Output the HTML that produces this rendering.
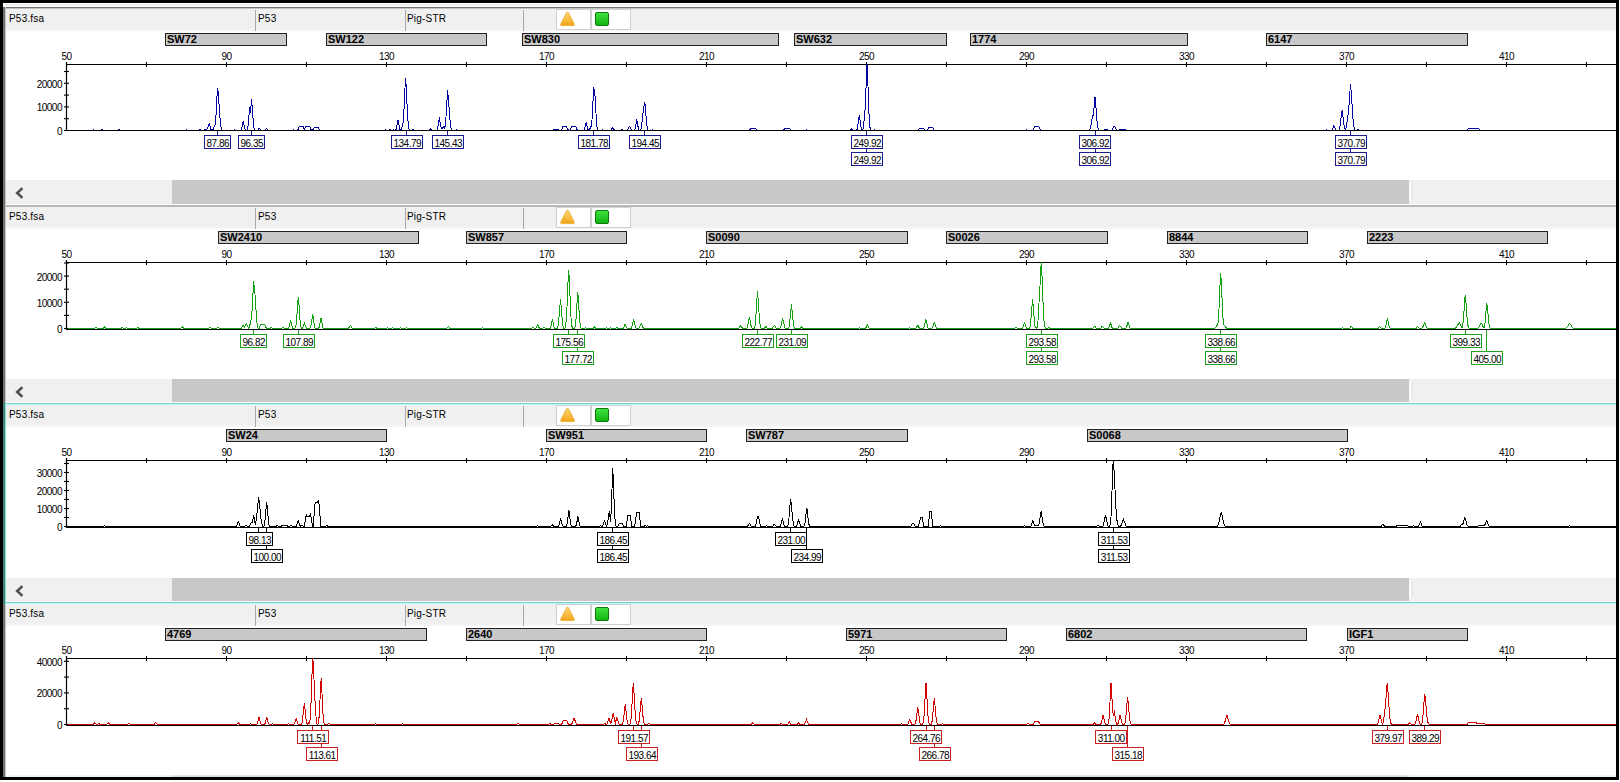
<!DOCTYPE html>
<html><head><meta charset="utf-8"><style>
*{margin:0;padding:0;box-sizing:border-box}
html,body{width:1620px;height:782px;overflow:hidden;background:#fff;position:relative;font-family:"Liberation Sans", Arial, sans-serif}
.hdr{position:absolute;left:5px;width:1611px;height:22px;background:linear-gradient(#f0f0f0 0,#f0f0f0 19px,#f7f7f7 22px)}
.vsep{position:absolute;width:1px;height:21px;background:#a8a8a8}
.ht{position:absolute;font-size:10px;line-height:11px;letter-spacing:0.2px;color:#000;white-space:nowrap}
.ibox{position:absolute;height:21px;background:#fff;border:1px solid #d0d0d0}
.gsq{position:absolute;width:14px;height:14px;border:1px solid #0a7a0a;border-radius:2px;background:linear-gradient(#3ee03e,#12b412)}
.xl{position:absolute;width:40px;text-align:center;font-size:10px;letter-spacing:-0.5px;line-height:10px;color:#000}
.yl{position:absolute;left:20px;width:42px;text-align:right;font-size:10px;letter-spacing:-0.5px;line-height:10px;color:#000}
.bar{position:absolute;height:13px;background:#c8c8c8;border:1px solid #222;font-weight:bold;font-size:11px;line-height:11px;padding-left:1px;color:#000;white-space:nowrap;overflow:hidden}
.sb{position:absolute;left:5px;width:1611px;height:25px;background:#f0f0f0}
.thumb{position:absolute;left:172px;width:1237px;height:24px;background:#c8c8c8}
.pl{position:absolute;height:14px;background:#fff;border:1px solid;font-size:10px;letter-spacing:-0.5px;line-height:10px;padding:2.5px 0 0 0.5px;text-align:center;color:#000;white-space:nowrap}
</style></head>
<body>
<div style="position:absolute;left:5px;top:4px;width:1611px;height:2px;background:#f0f0f0"></div><div style="position:absolute;left:3px;top:7px;width:1613px;height:1px;background:#727272"></div><div style="position:absolute;left:3px;top:8px;width:1613px;height:1px;background:#c4c4c4"></div><div class="hdr" style="top:9px"></div><div class="vsep" style="left:255px;top:10px"></div><div class="vsep" style="left:405px;top:10px"></div><div class="vsep" style="left:523px;top:10px"></div><div class="ht" style="left:9px;top:13px">P53.fsa</div><div class="ht" style="left:258px;top:13px">P53</div><div class="ht" style="left:407px;top:13px">Pig-STR</div><div class="ibox" style="left:556px;top:9px;width:35px"></div><div class="ibox" style="left:591px;top:9px;width:40px"></div><svg style="position:absolute;left:559px;top:11px" width="17" height="16" viewBox="0 0 17 16"><defs><linearGradient id="tg0" x1="0" y1="0" x2="0" y2="1"><stop offset="0" stop-color="#ffd878"/><stop offset="1" stop-color="#f2a418"/></linearGradient></defs><path d="M7.6 1.6 Q8.5 0.6 9.4 1.6 L15.3 13.2 Q15.6 14.6 14.2 14.6 L2.8 14.6 Q1.4 14.6 1.7 13.2 Z" fill="url(#tg0)" stroke="#e8a828" stroke-width="0.8"/></svg><div class="gsq" style="left:595px;top:12px"></div><div style="position:absolute;left:3px;top:205px;width:1613px;height:2px;background:#b8b8b8"></div><div class="hdr" style="top:207px"></div><div class="vsep" style="left:255px;top:208px"></div><div class="vsep" style="left:405px;top:208px"></div><div class="vsep" style="left:523px;top:208px"></div><div class="ht" style="left:9px;top:211px">P53.fsa</div><div class="ht" style="left:258px;top:211px">P53</div><div class="ht" style="left:407px;top:211px">Pig-STR</div><div class="ibox" style="left:556px;top:207px;width:35px"></div><div class="ibox" style="left:591px;top:207px;width:40px"></div><svg style="position:absolute;left:559px;top:209px" width="17" height="16" viewBox="0 0 17 16"><defs><linearGradient id="tg198" x1="0" y1="0" x2="0" y2="1"><stop offset="0" stop-color="#ffd878"/><stop offset="1" stop-color="#f2a418"/></linearGradient></defs><path d="M7.6 1.6 Q8.5 0.6 9.4 1.6 L15.3 13.2 Q15.6 14.6 14.2 14.6 L2.8 14.6 Q1.4 14.6 1.7 13.2 Z" fill="url(#tg198)" stroke="#e8a828" stroke-width="0.8"/></svg><div class="gsq" style="left:595px;top:210px"></div><div style="position:absolute;left:3px;top:403px;width:1613px;height:1px;background:#7ccac4"></div><div style="position:absolute;left:3px;top:404px;width:1613px;height:1px;background:#b8fcfc"></div><div class="hdr" style="top:405px"></div><div class="vsep" style="left:255px;top:406px"></div><div class="vsep" style="left:405px;top:406px"></div><div class="vsep" style="left:523px;top:406px"></div><div class="ht" style="left:9px;top:409px">P53.fsa</div><div class="ht" style="left:258px;top:409px">P53</div><div class="ht" style="left:407px;top:409px">Pig-STR</div><div class="ibox" style="left:556px;top:405px;width:35px"></div><div class="ibox" style="left:591px;top:405px;width:40px"></div><svg style="position:absolute;left:559px;top:407px" width="17" height="16" viewBox="0 0 17 16"><defs><linearGradient id="tg396" x1="0" y1="0" x2="0" y2="1"><stop offset="0" stop-color="#ffd878"/><stop offset="1" stop-color="#f2a418"/></linearGradient></defs><path d="M7.6 1.6 Q8.5 0.6 9.4 1.6 L15.3 13.2 Q15.6 14.6 14.2 14.6 L2.8 14.6 Q1.4 14.6 1.7 13.2 Z" fill="url(#tg396)" stroke="#e8a828" stroke-width="0.8"/></svg><div class="gsq" style="left:595px;top:408px"></div><div style="position:absolute;left:3px;top:602px;width:1613px;height:1px;background:#7ccac4"></div><div style="position:absolute;left:3px;top:603px;width:1613px;height:1px;background:#b8fcfc"></div><div class="hdr" style="top:604px"></div><div class="vsep" style="left:255px;top:605px"></div><div class="vsep" style="left:405px;top:605px"></div><div class="vsep" style="left:523px;top:605px"></div><div class="ht" style="left:9px;top:608px">P53.fsa</div><div class="ht" style="left:258px;top:608px">P53</div><div class="ht" style="left:407px;top:608px">Pig-STR</div><div class="ibox" style="left:556px;top:604px;width:35px"></div><div class="ibox" style="left:591px;top:604px;width:40px"></div><svg style="position:absolute;left:559px;top:606px" width="17" height="16" viewBox="0 0 17 16"><defs><linearGradient id="tg595" x1="0" y1="0" x2="0" y2="1"><stop offset="0" stop-color="#ffd878"/><stop offset="1" stop-color="#f2a418"/></linearGradient></defs><path d="M7.6 1.6 Q8.5 0.6 9.4 1.6 L15.3 13.2 Q15.6 14.6 14.2 14.6 L2.8 14.6 Q1.4 14.6 1.7 13.2 Z" fill="url(#tg595)" stroke="#e8a828" stroke-width="0.8"/></svg><div class="gsq" style="left:595px;top:607px"></div><div class="xl" style="left:46.5px;top:52px">50</div><div class="xl" style="left:206.5px;top:52px">90</div><div class="xl" style="left:366.5px;top:52px">130</div><div class="xl" style="left:526.5px;top:52px">170</div><div class="xl" style="left:686.5px;top:52px">210</div><div class="xl" style="left:846.5px;top:52px">250</div><div class="xl" style="left:1006.5px;top:52px">290</div><div class="xl" style="left:1166.5px;top:52px">330</div><div class="xl" style="left:1326.5px;top:52px">370</div><div class="xl" style="left:1486.5px;top:52px">410</div><svg style="position:absolute;left:0;top:0" width="1620" height="782"><line x1="66" y1="64.5" x2="1616" y2="64.5" stroke="#000" stroke-width="1.2"/><line x1="66.5" y1="62" x2="66.5" y2="67" stroke="#000" stroke-width="1.1"/><line x1="146.5" y1="62" x2="146.5" y2="67" stroke="#000" stroke-width="1.1"/><line x1="226.5" y1="62" x2="226.5" y2="67" stroke="#000" stroke-width="1.1"/><line x1="306.5" y1="62" x2="306.5" y2="67" stroke="#000" stroke-width="1.1"/><line x1="386.5" y1="62" x2="386.5" y2="67" stroke="#000" stroke-width="1.1"/><line x1="466.5" y1="62" x2="466.5" y2="67" stroke="#000" stroke-width="1.1"/><line x1="546.5" y1="62" x2="546.5" y2="67" stroke="#000" stroke-width="1.1"/><line x1="626.5" y1="62" x2="626.5" y2="67" stroke="#000" stroke-width="1.1"/><line x1="706.5" y1="62" x2="706.5" y2="67" stroke="#000" stroke-width="1.1"/><line x1="786.5" y1="62" x2="786.5" y2="67" stroke="#000" stroke-width="1.1"/><line x1="866.5" y1="62" x2="866.5" y2="67" stroke="#000" stroke-width="1.1"/><line x1="946.5" y1="62" x2="946.5" y2="67" stroke="#000" stroke-width="1.1"/><line x1="1026.5" y1="62" x2="1026.5" y2="67" stroke="#000" stroke-width="1.1"/><line x1="1106.5" y1="62" x2="1106.5" y2="67" stroke="#000" stroke-width="1.1"/><line x1="1186.5" y1="62" x2="1186.5" y2="67" stroke="#000" stroke-width="1.1"/><line x1="1266.5" y1="62" x2="1266.5" y2="67" stroke="#000" stroke-width="1.1"/><line x1="1346.5" y1="62" x2="1346.5" y2="67" stroke="#000" stroke-width="1.1"/><line x1="1426.5" y1="62" x2="1426.5" y2="67" stroke="#000" stroke-width="1.1"/><line x1="1506.5" y1="62" x2="1506.5" y2="67" stroke="#000" stroke-width="1.1"/><line x1="1586.5" y1="62" x2="1586.5" y2="67" stroke="#000" stroke-width="1.1"/><line x1="66.5" y1="62" x2="66.5" y2="131" stroke="#000" stroke-width="1.2"/><line x1="64" y1="130.5" x2="69" y2="130.5" stroke="#000" stroke-width="1.1"/><line x1="64" y1="118.7" x2="69" y2="118.7" stroke="#000" stroke-width="1.1"/><line x1="64" y1="106.9" x2="69" y2="106.9" stroke="#000" stroke-width="1.1"/><line x1="64" y1="95.1" x2="69" y2="95.1" stroke="#000" stroke-width="1.1"/><line x1="64" y1="83.3" x2="69" y2="83.3" stroke="#000" stroke-width="1.1"/><line x1="64" y1="71.5" x2="69" y2="71.5" stroke="#000" stroke-width="1.1"/><polyline points="67.50,130.50 91.50,130.50 92.50,130.21 93.50,129.50 94.50,130.21 95.50,130.50 100.50,130.50 101.50,129.36 102.50,129.07 103.50,130.50 117.50,130.50 118.50,129.86 119.50,129.86 120.50,130.50 184.50,130.50 185.50,130.21 186.50,129.50 187.50,130.21 188.50,130.50 198.50,130.50 199.50,129.79 200.50,129.93 201.50,130.50 203.50,130.50 204.50,129.86 205.50,129.86 206.50,130.50 207.50,127.59 207.80,127.20 208.50,125.39 209.20,123.00 209.50,123.51 210.50,128.50 211.50,130.50 212.50,130.50 213.50,128.57 214.30,125.80 214.50,126.05 215.50,123.83 216.10,113.37 216.50,103.79 217.50,88.10 218.20,92.37 218.50,96.09 219.50,110.76 220.50,124.45 221.50,129.17 222.50,130.50 232.50,130.50 233.50,130.21 234.50,129.50 235.50,130.21 236.50,130.50 240.50,130.50 241.50,129.53 242.50,124.16 243.20,121.20 243.50,121.83 244.50,128.02 245.50,130.50 246.50,130.50 247.50,129.54 248.50,122.57 249.50,108.23 249.80,106.90 250.50,113.30 251.50,99.00 252.50,110.66 253.50,125.54 254.50,130.01 255.50,130.50 257.50,130.50 258.50,129.00 259.20,128.10 259.50,128.30 260.50,130.03 261.50,130.50 264.50,130.50 265.50,129.75 266.50,128.12 266.60,128.10 267.50,129.40 268.50,130.50 291.50,130.50 292.50,130.50 293.50,129.93 294.50,130.04 295.50,130.50 297.50,130.50 298.50,128.40 299.50,126.30 300.50,126.30 301.50,126.30 302.50,126.30 303.50,126.30 304.50,130.50 305.50,126.30 306.50,126.30 307.50,126.30 308.50,126.30 309.50,126.30 310.50,128.40 311.50,130.50 312.50,130.50 313.50,128.40 314.50,127.50 315.50,127.50 316.50,127.50 317.50,127.50 318.50,127.50 319.50,130.50 383.50,130.50 384.50,130.29 385.50,129.57 386.50,130.14 387.50,130.50 388.50,130.50 389.50,129.86 390.50,129.86 391.50,130.50 392.50,130.21 393.50,129.50 394.50,130.21 395.50,130.50 396.50,128.69 397.50,121.86 398.00,120.00 398.50,121.86 399.50,128.69 400.50,130.50 401.50,129.46 402.50,124.69 403.10,122.80 403.50,122.25 404.50,97.50 405.50,78.10 406.20,85.38 406.50,91.88 407.50,115.04 408.50,127.14 409.50,130.10 410.50,130.50 411.50,130.50 412.50,129.79 413.50,129.93 414.50,130.50 428.50,130.50 429.50,130.07 430.50,129.00 431.50,130.07 432.50,130.50 436.50,130.50 437.50,128.97 438.50,122.30 439.30,118.10 439.50,118.42 440.50,125.61 441.50,128.03 442.00,127.00 442.50,128.03 443.50,126.90 443.90,126.00 444.50,127.77 445.50,125.40 446.50,108.09 447.50,91.48 447.60,91.30 448.50,99.01 449.50,114.00 450.50,126.38 451.50,129.86 452.50,130.50 454.50,130.50 455.50,130.14 456.50,129.57 457.50,130.29 458.50,130.50 552.50,130.50 553.50,129.00 554.50,129.00 555.50,129.00 556.50,129.00 557.50,129.00 558.50,129.15 559.50,130.50 561.50,130.50 562.50,126.80 563.50,126.80 564.50,126.80 565.50,126.80 566.50,126.80 567.50,128.65 568.50,130.50 570.50,130.50 571.50,126.30 572.50,126.30 573.50,126.30 574.50,126.30 575.50,126.30 576.50,128.40 577.50,130.50 583.50,130.50 584.50,129.66 585.50,125.04 586.20,122.50 586.50,123.04 587.50,128.36 588.50,130.50 589.50,130.09 590.50,127.04 591.10,125.60 591.50,126.30 592.50,113.23 593.50,89.36 593.80,87.30 594.50,93.30 595.00,96.00 595.50,102.12 596.50,124.55 597.50,129.84 598.50,130.50 600.50,130.50 601.50,130.10 602.50,129.87 603.50,130.44 604.50,130.50 610.50,130.50 611.50,129.49 612.50,127.50 612.70,127.40 613.50,128.62 614.50,130.50 620.50,130.50 621.50,129.99 622.50,129.99 623.50,130.50 626.50,130.50 627.50,129.79 628.50,127.63 629.40,126.20 629.50,126.22 630.50,128.15 631.50,130.03 632.50,130.50 634.50,130.50 635.50,127.70 636.50,120.71 636.80,120.00 637.50,123.34 638.50,129.40 639.50,130.50 640.50,130.50 641.50,127.58 642.50,117.40 643.50,108.90 644.50,103.45 644.80,102.10 645.50,107.86 646.50,123.03 647.50,129.52 648.50,130.50 650.50,130.50 651.50,130.10 652.50,129.87 653.50,130.44 654.50,130.50 749.50,130.50 750.50,128.80 751.50,128.80 752.50,128.80 753.50,128.80 754.50,128.80 755.50,128.80 756.50,129.65 757.50,130.50 782.50,130.50 783.50,130.16 784.50,128.80 785.50,128.80 786.50,128.80 787.50,128.80 788.50,128.80 789.50,128.80 790.50,129.65 791.50,130.50 804.50,130.50 805.50,130.10 806.50,129.87 807.50,130.44 808.50,130.50 849.50,130.50 850.50,129.96 851.50,129.11 852.50,130.18 853.50,130.50 856.50,130.50 857.50,128.61 858.50,120.38 859.30,115.20 859.50,115.59 860.50,124.46 861.50,129.83 862.50,130.50 863.50,127.13 864.50,115.40 865.50,105.60 866.50,71.56 867.00,64.50 867.50,69.40 868.50,102.97 869.50,124.91 870.50,129.99 871.50,130.50 872.50,130.50 873.50,130.29 874.50,129.94 875.50,130.37 876.50,130.50 917.50,130.50 918.50,129.65 919.50,128.80 920.50,128.80 921.50,128.80 922.50,128.80 923.50,128.80 924.50,129.65 925.50,130.50 927.50,130.50 928.50,127.50 929.50,127.50 930.50,127.50 931.50,127.50 932.50,127.50 933.50,129.00 934.50,130.50 1025.50,130.50 1026.50,129.93 1027.50,130.04 1028.50,130.50 1033.50,130.50 1034.50,126.50 1035.50,126.50 1036.50,126.50 1037.50,126.50 1038.50,126.50 1039.50,127.30 1040.50,130.50 1088.50,130.50 1089.50,129.93 1090.50,128.50 1091.50,122.48 1092.50,115.20 1093.50,115.46 1094.50,100.83 1095.00,97.20 1095.50,99.97 1096.50,115.25 1097.50,126.70 1098.50,130.03 1099.50,130.50 1103.50,130.50 1104.50,129.00 1105.50,129.00 1106.50,129.00 1107.50,129.30 1108.50,130.50 1111.50,130.50 1112.50,129.17 1113.50,127.22 1114.30,126.40 1114.50,126.46 1115.50,128.01 1116.50,129.74 1117.50,130.50 1118.50,130.50 1119.50,129.75 1120.50,129.00 1121.50,129.00 1122.50,129.00 1123.50,129.00 1124.50,129.00 1125.50,129.00 1126.50,130.35 1127.50,130.50 1324.50,130.50 1325.50,130.33 1326.50,129.90 1327.50,130.33 1328.50,130.50 1331.50,130.50 1332.50,129.46 1333.50,126.26 1333.90,125.70 1334.50,126.88 1335.50,129.85 1336.50,130.50 1338.50,130.50 1339.50,129.16 1340.50,123.36 1341.50,113.35 1342.10,110.70 1342.50,111.92 1343.50,121.43 1344.50,128.51 1345.50,129.88 1346.50,125.92 1347.50,118.06 1348.00,114.97 1348.50,107.91 1349.00,104.90 1349.50,98.80 1350.40,84.40 1350.50,84.50 1351.50,95.02 1352.50,112.75 1353.50,124.74 1354.50,129.29 1355.50,130.50 1356.50,130.50 1357.50,129.99 1358.50,129.99 1359.50,130.50 1466.50,130.50 1467.50,129.50 1468.50,128.50 1469.50,128.50 1470.50,128.50 1471.50,128.50 1472.50,128.50 1473.50,128.50 1474.50,128.50 1475.50,128.50 1476.50,128.50 1477.50,128.50 1478.50,128.50 1479.50,129.50 1480.50,130.50 1615.50,130.50" fill="none" stroke="#0000a0" stroke-width="1" stroke-linejoin="miter" shape-rendering="crispEdges"/><line x1="66" y1="130.5" x2="1616" y2="130.5" stroke="#000" stroke-width="1.1"/><line x1="217.5" y1="131" x2="217.5" y2="135" stroke="#1c1c90" stroke-width="1"/><line x1="251.5" y1="131" x2="251.5" y2="135" stroke="#1c1c90" stroke-width="1"/><line x1="406.5" y1="131" x2="406.5" y2="135" stroke="#1c1c90" stroke-width="1"/><line x1="447.5" y1="131" x2="447.5" y2="135" stroke="#1c1c90" stroke-width="1"/><line x1="593.5" y1="131" x2="593.5" y2="135" stroke="#1c1c90" stroke-width="1"/><line x1="644.5" y1="131" x2="644.5" y2="135" stroke="#1c1c90" stroke-width="1"/><line x1="866.5" y1="131" x2="866.5" y2="135" stroke="#1c1c90" stroke-width="1"/><line x1="1095.5" y1="131" x2="1095.5" y2="135" stroke="#1c1c90" stroke-width="1"/><line x1="1350.5" y1="131" x2="1350.5" y2="135" stroke="#1c1c90" stroke-width="1"/><line x1="866.5" y1="131" x2="866.5" y2="152" stroke="#1c1c90" stroke-width="1"/><line x1="1095.5" y1="131" x2="1095.5" y2="152" stroke="#1c1c90" stroke-width="1"/><line x1="1350.5" y1="131" x2="1350.5" y2="152" stroke="#1c1c90" stroke-width="1"/></svg><div class="yl" style="top:127px">0</div><div class="yl" style="top:103px">10000</div><div class="yl" style="top:80px">20000</div><div class="bar" style="left:165px;top:33px;width:122px">SW72</div><div class="bar" style="left:326px;top:33px;width:161px">SW122</div><div class="bar" style="left:522px;top:33px;width:257px">SW830</div><div class="bar" style="left:794px;top:33px;width:153px">SW632</div><div class="bar" style="left:970px;top:33px;width:218px">1774</div><div class="bar" style="left:1266px;top:33px;width:202px">6147</div><div class="pl" style="left:204px;width:27px;top:135px;border-color:#1c1c90">87.86</div><div class="pl" style="left:238px;width:27px;top:135px;border-color:#1c1c90">96.35</div><div class="pl" style="left:391px;width:32px;top:135px;border-color:#1c1c90">134.79</div><div class="pl" style="left:432px;width:32px;top:135px;border-color:#1c1c90">145.43</div><div class="pl" style="left:578px;width:32px;top:135px;border-color:#1c1c90">181.78</div><div class="pl" style="left:629px;width:32px;top:135px;border-color:#1c1c90">194.45</div><div class="pl" style="left:851px;width:32px;top:135px;border-color:#1c1c90">249.92</div><div class="pl" style="left:1079px;width:32px;top:135px;border-color:#1c1c90">306.92</div><div class="pl" style="left:1335px;width:32px;top:135px;border-color:#1c1c90">370.79</div><div class="pl" style="left:851px;width:32px;top:152px;border-color:#1c1c90">249.92</div><div class="pl" style="left:1079px;width:32px;top:152px;border-color:#1c1c90">306.92</div><div class="pl" style="left:1335px;width:32px;top:152px;border-color:#1c1c90">370.79</div><div class="xl" style="left:46.5px;top:250px">50</div><div class="xl" style="left:206.5px;top:250px">90</div><div class="xl" style="left:366.5px;top:250px">130</div><div class="xl" style="left:526.5px;top:250px">170</div><div class="xl" style="left:686.5px;top:250px">210</div><div class="xl" style="left:846.5px;top:250px">250</div><div class="xl" style="left:1006.5px;top:250px">290</div><div class="xl" style="left:1166.5px;top:250px">330</div><div class="xl" style="left:1326.5px;top:250px">370</div><div class="xl" style="left:1486.5px;top:250px">410</div><svg style="position:absolute;left:0;top:0" width="1620" height="782"><line x1="66" y1="262.5" x2="1616" y2="262.5" stroke="#000" stroke-width="1.2"/><line x1="66.5" y1="260" x2="66.5" y2="265" stroke="#000" stroke-width="1.1"/><line x1="146.5" y1="260" x2="146.5" y2="265" stroke="#000" stroke-width="1.1"/><line x1="226.5" y1="260" x2="226.5" y2="265" stroke="#000" stroke-width="1.1"/><line x1="306.5" y1="260" x2="306.5" y2="265" stroke="#000" stroke-width="1.1"/><line x1="386.5" y1="260" x2="386.5" y2="265" stroke="#000" stroke-width="1.1"/><line x1="466.5" y1="260" x2="466.5" y2="265" stroke="#000" stroke-width="1.1"/><line x1="546.5" y1="260" x2="546.5" y2="265" stroke="#000" stroke-width="1.1"/><line x1="626.5" y1="260" x2="626.5" y2="265" stroke="#000" stroke-width="1.1"/><line x1="706.5" y1="260" x2="706.5" y2="265" stroke="#000" stroke-width="1.1"/><line x1="786.5" y1="260" x2="786.5" y2="265" stroke="#000" stroke-width="1.1"/><line x1="866.5" y1="260" x2="866.5" y2="265" stroke="#000" stroke-width="1.1"/><line x1="946.5" y1="260" x2="946.5" y2="265" stroke="#000" stroke-width="1.1"/><line x1="1026.5" y1="260" x2="1026.5" y2="265" stroke="#000" stroke-width="1.1"/><line x1="1106.5" y1="260" x2="1106.5" y2="265" stroke="#000" stroke-width="1.1"/><line x1="1186.5" y1="260" x2="1186.5" y2="265" stroke="#000" stroke-width="1.1"/><line x1="1266.5" y1="260" x2="1266.5" y2="265" stroke="#000" stroke-width="1.1"/><line x1="1346.5" y1="260" x2="1346.5" y2="265" stroke="#000" stroke-width="1.1"/><line x1="1426.5" y1="260" x2="1426.5" y2="265" stroke="#000" stroke-width="1.1"/><line x1="1506.5" y1="260" x2="1506.5" y2="265" stroke="#000" stroke-width="1.1"/><line x1="1586.5" y1="260" x2="1586.5" y2="265" stroke="#000" stroke-width="1.1"/><line x1="66.5" y1="260" x2="66.5" y2="330" stroke="#000" stroke-width="1.2"/><line x1="64" y1="328.5" x2="69" y2="328.5" stroke="#000" stroke-width="1.1"/><line x1="64" y1="315.4" x2="69" y2="315.4" stroke="#000" stroke-width="1.1"/><line x1="64" y1="302.3" x2="69" y2="302.3" stroke="#000" stroke-width="1.1"/><line x1="64" y1="289.2" x2="69" y2="289.2" stroke="#000" stroke-width="1.1"/><line x1="64" y1="276.1" x2="69" y2="276.1" stroke="#000" stroke-width="1.1"/><line x1="64" y1="263.0" x2="69" y2="263.0" stroke="#000" stroke-width="1.1"/><polyline points="67.50,328.50 94.50,328.50 95.50,327.81 96.50,327.64 97.50,328.50 102.50,328.50 103.50,327.96 104.50,327.11 105.50,328.18 106.50,328.50 120.50,328.50 121.50,328.00 122.50,327.71 123.50,328.43 124.50,328.50 125.50,328.36 126.50,327.64 127.50,328.07 128.50,328.50 135.50,328.50 136.50,328.24 137.50,327.39 138.50,328.07 139.50,328.50 180.50,328.50 181.50,327.25 182.50,326.54 183.50,328.32 184.50,328.50 208.50,328.50 209.50,327.86 210.50,327.86 211.50,328.50 216.50,328.50 217.50,327.21 218.50,327.21 219.50,328.50 240.50,328.50 241.50,327.98 242.50,326.03 243.00,325.50 243.50,326.03 244.50,327.32 245.50,324.59 246.20,323.50 246.50,323.72 247.50,326.35 248.50,328.14 249.50,327.09 250.50,322.19 251.50,318.10 252.50,304.38 253.50,282.25 253.60,282.00 254.50,288.50 255.50,300.23 256.50,318.53 257.50,326.74 258.50,328.50 259.50,328.50 260.50,324.00 261.50,324.00 262.50,324.00 263.50,324.00 264.50,324.00 265.50,326.25 266.50,328.50 269.50,328.50 270.50,328.00 271.50,327.71 272.50,328.43 273.50,328.50 280.50,328.50 281.50,328.39 282.50,327.32 283.50,327.75 284.50,328.50 288.50,328.50 289.50,325.39 290.50,320.56 290.60,320.50 291.50,324.25 292.50,328.02 293.50,328.50 294.50,328.50 295.50,327.88 296.50,322.33 297.50,305.84 298.30,297.30 298.50,297.97 298.80,301.26 299.50,313.56 300.50,325.33 301.50,328.50 302.50,328.50 303.50,326.07 304.50,323.20 305.50,326.07 306.50,328.50 309.50,328.50 310.50,327.88 311.50,322.90 312.50,314.66 312.70,314.30 313.50,319.11 314.50,326.75 315.50,328.50 318.50,328.50 319.50,326.71 320.50,319.95 321.00,318.10 321.50,319.95 322.50,326.71 323.50,328.50 348.50,328.50 349.50,326.60 350.40,325.30 350.50,325.32 351.50,327.03 352.50,328.50 373.50,328.50 374.50,328.45 375.50,327.79 376.50,327.93 377.50,328.50 385.50,328.50 386.50,328.07 387.50,327.64 388.50,328.36 389.50,328.50 390.50,328.50 391.50,328.36 392.50,327.64 393.50,328.07 394.50,328.50 398.50,328.50 399.50,328.29 400.50,327.57 401.50,328.14 402.50,328.50 404.50,328.50 405.50,328.21 406.50,327.50 407.50,328.21 408.50,328.50 446.50,328.50 447.50,327.93 448.50,326.50 449.50,327.93 450.50,328.50 480.50,328.50 481.50,328.35 482.50,327.85 483.50,328.25 484.50,328.50 531.50,328.50 532.50,327.86 533.50,327.21 534.50,328.29 535.50,328.50 536.50,327.02 537.50,324.73 537.60,324.70 538.50,326.48 539.50,328.50 541.50,328.50 542.50,328.29 543.50,327.21 544.50,327.86 545.50,328.50 549.50,328.50 550.50,327.95 551.50,323.61 552.40,319.30 552.50,319.37 553.50,324.93 554.50,328.50 556.50,328.50 557.50,328.04 558.50,323.90 559.50,310.11 560.50,299.30 561.50,310.11 562.50,323.90 563.50,328.04 564.50,328.50 565.50,326.92 566.50,316.84 567.50,296.82 568.00,282.18 568.50,271.46 568.70,270.40 569.50,281.98 570.50,309.64 571.50,324.68 572.50,328.11 573.50,328.50 574.50,328.50 575.50,325.39 576.50,312.06 577.50,294.06 577.80,292.60 578.50,299.88 579.50,319.06 580.50,327.27 581.50,328.50 583.50,328.50 584.50,328.36 585.50,327.64 586.50,328.07 587.50,328.50 592.50,328.50 593.50,328.18 594.50,327.11 595.50,327.96 596.50,328.50 604.50,328.50 605.50,328.25 606.50,327.85 607.50,328.35 608.50,328.50 609.50,328.25 610.50,327.85 611.50,328.35 612.50,328.50 614.50,328.50 615.50,328.43 616.50,327.71 617.50,328.00 618.50,328.50 622.50,328.50 623.50,328.05 624.50,325.57 625.20,324.20 625.50,324.49 626.50,327.35 627.50,328.50 630.50,328.50 631.50,327.95 632.50,324.20 633.50,319.16 633.60,319.10 634.50,322.93 635.50,327.59 636.50,328.50 638.50,328.50 639.50,327.85 640.50,324.99 641.30,323.20 641.50,323.34 642.50,326.41 643.50,328.50 738.50,328.50 739.50,327.43 740.50,325.87 740.70,325.80 741.50,326.71 742.50,328.50 746.50,328.50 747.50,327.18 748.50,321.62 749.40,317.40 749.50,317.47 750.50,323.07 751.50,327.68 752.50,328.50 753.50,328.50 754.50,328.09 755.50,323.45 756.50,305.88 757.50,291.20 758.50,303.46 759.50,320.93 760.50,327.47 761.50,328.50 764.50,328.50 765.50,326.61 765.90,326.30 766.50,326.95 767.50,328.50 771.50,328.50 772.50,328.10 773.50,326.38 774.30,325.30 774.50,325.38 775.50,327.24 776.50,328.50 779.50,328.50 780.50,327.92 781.50,324.19 782.50,318.64 782.70,318.40 783.50,321.58 784.50,327.01 785.50,328.50 788.50,328.50 789.50,325.20 790.50,313.42 791.40,305.10 791.50,305.21 792.50,315.13 793.50,325.45 794.50,328.50 799.50,328.50 800.50,328.07 801.50,327.00 802.50,328.07 803.50,328.50 857.50,328.50 858.50,328.07 859.50,327.64 860.50,328.36 861.50,328.50 865.50,328.50 866.50,326.43 867.40,324.60 867.50,324.63 868.50,326.98 869.50,328.50 907.50,328.50 908.50,328.29 909.50,327.57 910.50,328.14 911.50,328.50 915.50,328.50 916.50,327.65 917.50,325.52 917.80,325.30 918.50,326.32 919.50,328.50 923.50,328.50 924.50,325.93 925.50,320.29 925.90,319.40 926.50,321.29 927.50,326.76 928.50,328.50 931.50,328.50 932.50,327.91 933.50,324.88 934.40,322.40 934.50,322.44 935.50,325.71 936.50,328.15 937.50,328.50 1014.50,328.50 1015.50,327.86 1016.50,327.21 1017.50,328.29 1018.50,328.50 1021.50,328.50 1022.50,328.14 1023.50,325.26 1024.40,322.40 1024.50,322.45 1025.50,326.13 1026.50,328.50 1029.50,328.50 1030.50,324.82 1031.50,312.32 1032.50,300.33 1032.60,300.20 1033.50,309.04 1034.50,323.17 1035.50,327.92 1036.50,328.50 1037.50,326.63 1038.50,314.70 1039.50,290.99 1040.00,286.00 1040.50,274.68 1041.20,262.50 1041.50,262.83 1042.50,288.20 1043.50,315.07 1044.50,326.07 1045.50,328.50 1047.50,328.50 1048.50,327.79 1049.50,327.93 1050.50,328.50 1092.50,328.50 1093.50,327.91 1094.50,326.45 1094.80,326.30 1095.50,327.00 1096.50,328.50 1100.50,328.50 1101.50,327.00 1102.20,326.30 1102.50,326.45 1103.50,327.91 1104.50,328.50 1108.50,328.50 1109.50,325.62 1110.40,322.20 1110.50,322.26 1111.50,326.54 1112.50,328.50 1117.50,328.50 1118.50,327.24 1119.50,325.38 1119.70,325.30 1120.50,326.38 1121.50,328.10 1122.50,328.50 1125.50,328.50 1126.50,327.62 1127.50,323.59 1128.10,322.00 1128.50,322.76 1129.50,327.09 1130.50,328.50 1214.50,328.50 1215.50,327.90 1216.50,325.62 1217.00,325.00 1217.50,325.62 1218.50,320.48 1219.50,297.41 1220.50,274.17 1220.70,273.30 1221.50,284.30 1222.50,310.58 1223.50,324.87 1224.00,325.00 1224.50,325.29 1225.50,326.90 1226.50,328.10 1227.50,328.50 1340.50,328.50 1341.50,328.21 1342.50,327.50 1343.50,328.21 1344.50,328.50 1349.50,328.50 1350.50,326.84 1351.10,326.30 1351.50,326.56 1352.50,328.02 1353.50,328.50 1377.50,328.50 1378.50,328.09 1379.50,326.33 1379.60,326.30 1380.50,327.79 1381.50,328.50 1384.50,328.50 1385.50,327.15 1386.50,322.31 1387.40,318.90 1387.50,318.95 1388.50,323.52 1389.50,327.62 1390.50,328.50 1415.50,328.50 1416.50,328.09 1417.50,326.33 1417.60,326.30 1418.50,327.79 1419.50,328.50 1421.50,328.50 1422.50,327.93 1423.50,325.28 1424.50,322.33 1424.60,322.30 1425.50,324.50 1426.50,327.63 1427.50,328.50 1454.50,328.50 1455.50,328.02 1456.50,327.08 1457.50,325.43 1458.50,323.62 1459.50,322.80 1460.50,324.47 1461.50,327.08 1462.50,327.35 1463.50,319.75 1464.50,301.95 1465.20,295.20 1465.50,296.22 1466.50,309.98 1467.50,323.19 1468.50,327.74 1469.50,328.50 1477.50,328.50 1478.50,327.53 1479.50,325.87 1480.50,323.89 1481.30,323.20 1481.50,323.27 1482.50,325.29 1483.50,327.51 1484.50,327.07 1485.50,318.43 1486.50,304.50 1486.80,303.30 1487.50,307.77 1488.50,320.54 1489.50,327.12 1490.50,328.50 1565.50,328.50 1566.50,327.84 1567.50,326.60 1568.50,324.80 1569.50,323.64 1569.70,323.60 1570.50,324.18 1571.50,325.90 1572.50,327.44 1573.50,328.50 1615.50,328.50" fill="none" stroke="#10a010" stroke-width="1" stroke-linejoin="miter" shape-rendering="crispEdges"/><line x1="66" y1="329.5" x2="1616" y2="329.5" stroke="#000" stroke-width="1.1"/><line x1="253.5" y1="330" x2="253.5" y2="334" stroke="#20a020" stroke-width="1"/><line x1="298.5" y1="330" x2="298.5" y2="334" stroke="#20a020" stroke-width="1"/><line x1="568.5" y1="330" x2="568.5" y2="334" stroke="#20a020" stroke-width="1"/><line x1="757.5" y1="330" x2="757.5" y2="334" stroke="#20a020" stroke-width="1"/><line x1="791.5" y1="330" x2="791.5" y2="334" stroke="#20a020" stroke-width="1"/><line x1="1041.5" y1="330" x2="1041.5" y2="334" stroke="#20a020" stroke-width="1"/><line x1="1220.5" y1="330" x2="1220.5" y2="334" stroke="#20a020" stroke-width="1"/><line x1="1465.5" y1="330" x2="1465.5" y2="334" stroke="#20a020" stroke-width="1"/><line x1="577.5" y1="330" x2="577.5" y2="351" stroke="#20a020" stroke-width="1"/><line x1="1041.5" y1="330" x2="1041.5" y2="351" stroke="#20a020" stroke-width="1"/><line x1="1220.5" y1="330" x2="1220.5" y2="351" stroke="#20a020" stroke-width="1"/><line x1="1486.5" y1="330" x2="1486.5" y2="351" stroke="#20a020" stroke-width="1"/></svg><div class="yl" style="top:325px">0</div><div class="yl" style="top:299px">10000</div><div class="yl" style="top:273px">20000</div><div class="bar" style="left:218px;top:231px;width:201px">SW2410</div><div class="bar" style="left:466px;top:231px;width:161px">SW857</div><div class="bar" style="left:706px;top:231px;width:202px">S0090</div><div class="bar" style="left:946px;top:231px;width:162px">S0026</div><div class="bar" style="left:1167px;top:231px;width:141px">8844</div><div class="bar" style="left:1367px;top:231px;width:181px">2223</div><div class="pl" style="left:240px;width:27px;top:334px;border-color:#20a020">96.82</div><div class="pl" style="left:283px;width:32px;top:334px;border-color:#20a020">107.89</div><div class="pl" style="left:553px;width:32px;top:334px;border-color:#20a020">175.56</div><div class="pl" style="left:742px;width:32px;top:334px;border-color:#20a020">222.77</div><div class="pl" style="left:776px;width:32px;top:334px;border-color:#20a020">231.09</div><div class="pl" style="left:1026px;width:32px;top:334px;border-color:#20a020">293.58</div><div class="pl" style="left:1205px;width:32px;top:334px;border-color:#20a020">338.66</div><div class="pl" style="left:1450px;width:32px;top:334px;border-color:#20a020">399.33</div><div class="pl" style="left:562px;width:32px;top:351px;border-color:#20a020">177.72</div><div class="pl" style="left:1026px;width:32px;top:351px;border-color:#20a020">293.58</div><div class="pl" style="left:1205px;width:32px;top:351px;border-color:#20a020">338.66</div><div class="pl" style="left:1471px;width:32px;top:351px;border-color:#20a020">405.00</div><div class="xl" style="left:46.5px;top:448px">50</div><div class="xl" style="left:206.5px;top:448px">90</div><div class="xl" style="left:366.5px;top:448px">130</div><div class="xl" style="left:526.5px;top:448px">170</div><div class="xl" style="left:686.5px;top:448px">210</div><div class="xl" style="left:846.5px;top:448px">250</div><div class="xl" style="left:1006.5px;top:448px">290</div><div class="xl" style="left:1166.5px;top:448px">330</div><div class="xl" style="left:1326.5px;top:448px">370</div><div class="xl" style="left:1486.5px;top:448px">410</div><svg style="position:absolute;left:0;top:0" width="1620" height="782"><line x1="66" y1="460.5" x2="1616" y2="460.5" stroke="#000" stroke-width="1.2"/><line x1="66.5" y1="458" x2="66.5" y2="463" stroke="#000" stroke-width="1.1"/><line x1="146.5" y1="458" x2="146.5" y2="463" stroke="#000" stroke-width="1.1"/><line x1="226.5" y1="458" x2="226.5" y2="463" stroke="#000" stroke-width="1.1"/><line x1="306.5" y1="458" x2="306.5" y2="463" stroke="#000" stroke-width="1.1"/><line x1="386.5" y1="458" x2="386.5" y2="463" stroke="#000" stroke-width="1.1"/><line x1="466.5" y1="458" x2="466.5" y2="463" stroke="#000" stroke-width="1.1"/><line x1="546.5" y1="458" x2="546.5" y2="463" stroke="#000" stroke-width="1.1"/><line x1="626.5" y1="458" x2="626.5" y2="463" stroke="#000" stroke-width="1.1"/><line x1="706.5" y1="458" x2="706.5" y2="463" stroke="#000" stroke-width="1.1"/><line x1="786.5" y1="458" x2="786.5" y2="463" stroke="#000" stroke-width="1.1"/><line x1="866.5" y1="458" x2="866.5" y2="463" stroke="#000" stroke-width="1.1"/><line x1="946.5" y1="458" x2="946.5" y2="463" stroke="#000" stroke-width="1.1"/><line x1="1026.5" y1="458" x2="1026.5" y2="463" stroke="#000" stroke-width="1.1"/><line x1="1106.5" y1="458" x2="1106.5" y2="463" stroke="#000" stroke-width="1.1"/><line x1="1186.5" y1="458" x2="1186.5" y2="463" stroke="#000" stroke-width="1.1"/><line x1="1266.5" y1="458" x2="1266.5" y2="463" stroke="#000" stroke-width="1.1"/><line x1="1346.5" y1="458" x2="1346.5" y2="463" stroke="#000" stroke-width="1.1"/><line x1="1426.5" y1="458" x2="1426.5" y2="463" stroke="#000" stroke-width="1.1"/><line x1="1506.5" y1="458" x2="1506.5" y2="463" stroke="#000" stroke-width="1.1"/><line x1="1586.5" y1="458" x2="1586.5" y2="463" stroke="#000" stroke-width="1.1"/><line x1="66.5" y1="458" x2="66.5" y2="528" stroke="#000" stroke-width="1.2"/><line x1="64" y1="526.5" x2="69" y2="526.5" stroke="#000" stroke-width="1.1"/><line x1="64" y1="517.5" x2="69" y2="517.5" stroke="#000" stroke-width="1.1"/><line x1="64" y1="508.5" x2="69" y2="508.5" stroke="#000" stroke-width="1.1"/><line x1="64" y1="499.5" x2="69" y2="499.5" stroke="#000" stroke-width="1.1"/><line x1="64" y1="490.5" x2="69" y2="490.5" stroke="#000" stroke-width="1.1"/><line x1="64" y1="481.5" x2="69" y2="481.5" stroke="#000" stroke-width="1.1"/><line x1="64" y1="472.5" x2="69" y2="472.5" stroke="#000" stroke-width="1.1"/><line x1="64" y1="463.5" x2="69" y2="463.5" stroke="#000" stroke-width="1.1"/><polyline points="67.50,526.50 102.50,526.50 103.50,526.14 104.50,525.57 105.50,526.29 106.50,526.50 236.50,526.50 237.50,523.70 238.30,521.30 238.50,521.50 239.50,525.20 240.50,526.50 244.50,526.50 245.50,525.93 246.50,525.79 247.50,526.50 249.50,526.50 250.50,524.29 251.30,522.40 251.50,522.56 252.50,522.90 253.50,515.74 253.70,515.40 254.50,519.77 255.50,525.18 256.50,517.32 257.50,509.00 258.50,497.95 258.70,497.20 259.50,503.80 260.50,514.08 261.50,522.74 262.50,525.99 263.50,526.50 264.50,525.44 265.50,515.47 266.50,502.40 267.30,506.50 267.50,507.58 268.50,523.79 269.50,526.50 275.50,526.50 276.50,526.00 277.50,525.71 278.50,526.43 279.50,526.50 280.50,526.50 281.50,526.00 282.50,525.50 283.50,525.50 284.50,525.50 285.50,525.50 286.50,525.50 287.50,526.00 288.50,526.50 289.50,526.50 290.50,525.07 291.50,525.36 292.50,526.50 295.50,526.50 296.50,526.01 297.50,522.80 298.30,520.40 298.50,520.59 299.50,524.52 300.50,526.50 301.50,525.86 302.50,525.86 303.50,526.50 304.50,526.50 305.50,517.77 306.50,515.41 306.60,515.20 307.50,516.80 308.50,516.80 309.50,516.80 310.50,514.50 311.50,519.71 312.50,526.50 313.50,526.50 314.50,504.99 315.50,502.60 316.50,502.60 317.50,502.60 318.30,500.20 318.50,502.39 319.50,504.99 320.50,526.50 324.50,526.50 325.50,526.50 326.50,525.79 327.50,525.93 328.50,526.50 535.50,526.50 536.50,526.36 537.50,525.64 538.50,526.07 539.50,526.50 550.50,526.50 551.50,525.64 552.50,524.79 553.50,526.21 554.50,526.50 558.50,526.50 559.50,523.90 560.50,518.75 560.70,518.50 561.50,521.65 562.50,525.86 563.50,526.50 565.50,526.50 566.50,526.11 567.50,521.96 568.50,511.98 568.90,510.40 569.50,513.74 570.50,523.42 571.50,526.50 575.50,526.50 576.50,524.79 577.50,518.36 578.00,516.60 578.50,518.36 579.50,524.79 580.50,526.50 598.50,526.50 599.50,526.36 600.50,525.64 601.50,526.07 602.50,526.14 603.50,523.31 604.40,520.50 604.50,520.55 605.50,524.17 606.50,526.50 607.50,524.23 608.50,515.79 609.20,511.80 609.50,512.63 610.50,521.56 611.50,507.64 612.50,470.19 612.70,468.40 613.50,483.28 614.50,513.51 615.50,524.95 616.50,526.50 617.50,526.50 618.50,524.90 619.50,523.30 620.50,523.30 621.50,523.30 622.50,523.30 623.50,526.50 626.50,526.50 627.50,515.70 628.50,515.70 629.50,515.70 630.50,515.70 631.50,526.50 634.50,526.50 635.50,522.33 636.50,512.60 637.50,512.60 638.50,512.60 639.50,512.60 640.50,526.50 643.50,526.50 644.50,526.00 645.50,525.71 646.50,526.29 647.50,525.57 648.50,526.14 649.50,526.50 747.50,526.50 748.50,524.50 749.30,523.20 749.50,523.30 750.50,525.43 751.50,526.50 755.50,526.50 756.50,521.35 757.50,516.20 758.50,516.20 759.50,521.35 760.50,526.50 764.50,526.50 765.50,526.14 766.50,525.57 767.50,526.29 768.50,526.50 772.50,526.50 773.50,525.00 774.20,524.30 774.50,524.45 775.50,525.91 776.50,526.50 779.50,526.50 780.50,526.01 781.50,522.15 782.40,518.30 782.50,518.36 783.50,523.31 784.50,526.50 787.50,526.50 788.50,523.50 789.50,511.65 790.50,499.44 790.60,499.30 791.50,505.97 791.80,510.00 792.50,516.61 793.50,524.98 794.50,526.50 796.50,526.50 797.50,523.74 798.50,519.46 798.60,519.40 799.50,522.73 800.50,526.08 801.50,526.50 803.50,526.50 804.50,525.69 805.50,519.72 806.50,509.05 806.80,508.10 807.50,512.40 808.50,522.66 809.50,526.15 810.50,526.50 910.50,526.50 911.50,524.90 912.50,523.30 913.50,523.30 914.50,524.90 915.50,526.50 918.50,526.50 919.50,522.05 920.50,517.60 921.50,517.60 922.50,517.60 923.50,526.50 928.50,526.50 929.50,511.70 930.50,511.70 931.50,511.70 932.50,526.50 938.50,526.50 939.50,526.29 940.50,525.57 941.50,526.14 942.50,526.50 1022.50,526.50 1023.50,526.14 1024.50,525.57 1025.50,526.29 1026.50,526.50 1030.50,526.50 1031.50,525.34 1032.50,521.09 1032.80,520.60 1033.50,522.82 1034.50,525.30 1035.50,525.30 1036.50,525.30 1037.50,525.30 1038.50,525.90 1039.50,522.39 1040.50,514.14 1041.10,511.70 1041.50,512.76 1042.50,520.52 1043.50,525.47 1044.50,526.50 1096.50,526.50 1097.50,525.07 1098.50,525.36 1099.50,526.50 1102.50,526.50 1103.50,524.97 1104.50,519.65 1105.50,515.20 1106.50,519.65 1107.50,524.97 1108.50,526.50 1109.50,526.50 1110.50,524.23 1111.50,509.15 1112.50,473.88 1113.20,460.50 1113.50,461.54 1114.50,477.58 1115.50,500.64 1116.50,516.91 1117.50,524.01 1118.50,526.04 1119.50,526.50 1120.50,526.50 1121.50,524.78 1122.50,521.62 1123.50,519.60 1124.50,521.62 1125.50,524.78 1126.50,526.50 1216.50,526.50 1217.50,526.15 1218.50,524.61 1219.50,520.37 1220.50,514.61 1221.30,512.50 1221.50,512.64 1222.50,516.80 1223.50,522.43 1224.50,525.47 1225.50,526.50 1381.50,526.50 1382.50,524.30 1383.00,523.70 1383.50,524.30 1384.50,526.50 1395.50,526.50 1396.50,526.00 1397.50,525.50 1398.50,525.50 1399.50,525.50 1400.50,525.50 1401.50,525.50 1402.50,525.50 1403.50,525.50 1404.50,525.50 1405.50,525.50 1406.50,525.50 1407.50,525.60 1408.50,526.50 1411.50,526.50 1412.50,526.07 1413.50,525.64 1414.50,526.36 1415.50,526.50 1418.50,526.50 1419.50,524.06 1420.40,521.90 1420.50,521.94 1421.50,524.71 1422.50,526.50 1459.50,526.50 1460.50,526.07 1461.50,524.44 1462.00,524.00 1462.50,524.44 1463.50,522.52 1464.50,518.34 1464.90,517.80 1465.50,518.96 1466.50,523.36 1467.50,525.91 1468.50,526.50 1477.50,526.50 1478.50,525.50 1479.50,525.50 1480.50,525.50 1481.50,525.50 1482.50,525.50 1483.50,525.50 1484.50,525.85 1485.50,523.37 1486.50,520.51 1486.70,520.40 1487.50,521.96 1488.50,525.14 1489.50,526.50 1567.50,526.50 1568.50,526.29 1569.50,525.57 1570.50,526.14 1571.50,526.50 1615.50,526.50" fill="none" stroke="#000000" stroke-width="1" stroke-linejoin="miter" shape-rendering="crispEdges"/><line x1="66" y1="527.5" x2="1616" y2="527.5" stroke="#000" stroke-width="1.1"/><line x1="258.5" y1="528" x2="258.5" y2="532" stroke="#000000" stroke-width="1"/><line x1="612.5" y1="528" x2="612.5" y2="532" stroke="#000000" stroke-width="1"/><line x1="790.5" y1="528" x2="790.5" y2="532" stroke="#000000" stroke-width="1"/><line x1="1113.5" y1="528" x2="1113.5" y2="532" stroke="#000000" stroke-width="1"/><line x1="266.5" y1="528" x2="266.5" y2="549" stroke="#000000" stroke-width="1"/><line x1="612.5" y1="528" x2="612.5" y2="549" stroke="#000000" stroke-width="1"/><line x1="806.5" y1="528" x2="806.5" y2="549" stroke="#000000" stroke-width="1"/><line x1="1113.5" y1="528" x2="1113.5" y2="549" stroke="#000000" stroke-width="1"/></svg><div class="yl" style="top:523px">0</div><div class="yl" style="top:505px">10000</div><div class="yl" style="top:487px">20000</div><div class="yl" style="top:469px">30000</div><div class="bar" style="left:226px;top:429px;width:161px">SW24</div><div class="bar" style="left:546px;top:429px;width:161px">SW951</div><div class="bar" style="left:746px;top:429px;width:162px">SW787</div><div class="bar" style="left:1087px;top:429px;width:261px">S0068</div><div class="pl" style="left:246px;width:27px;top:532px;border-color:#000000">98.13</div><div class="pl" style="left:597px;width:32px;top:532px;border-color:#000000">186.45</div><div class="pl" style="left:775px;width:32px;top:532px;border-color:#000000">231.00</div><div class="pl" style="left:1098px;width:32px;top:532px;border-color:#000000">311.53</div><div class="pl" style="left:251px;width:32px;top:549px;border-color:#000000">100.00</div><div class="pl" style="left:597px;width:32px;top:549px;border-color:#000000">186.45</div><div class="pl" style="left:791px;width:32px;top:549px;border-color:#000000">234.99</div><div class="pl" style="left:1098px;width:32px;top:549px;border-color:#000000">311.53</div><div class="xl" style="left:46.5px;top:646px">50</div><div class="xl" style="left:206.5px;top:646px">90</div><div class="xl" style="left:366.5px;top:646px">130</div><div class="xl" style="left:526.5px;top:646px">170</div><div class="xl" style="left:686.5px;top:646px">210</div><div class="xl" style="left:846.5px;top:646px">250</div><div class="xl" style="left:1006.5px;top:646px">290</div><div class="xl" style="left:1166.5px;top:646px">330</div><div class="xl" style="left:1326.5px;top:646px">370</div><div class="xl" style="left:1486.5px;top:646px">410</div><svg style="position:absolute;left:0;top:0" width="1620" height="782"><line x1="66" y1="658.5" x2="1616" y2="658.5" stroke="#000" stroke-width="1.2"/><line x1="66.5" y1="656" x2="66.5" y2="661" stroke="#000" stroke-width="1.1"/><line x1="146.5" y1="656" x2="146.5" y2="661" stroke="#000" stroke-width="1.1"/><line x1="226.5" y1="656" x2="226.5" y2="661" stroke="#000" stroke-width="1.1"/><line x1="306.5" y1="656" x2="306.5" y2="661" stroke="#000" stroke-width="1.1"/><line x1="386.5" y1="656" x2="386.5" y2="661" stroke="#000" stroke-width="1.1"/><line x1="466.5" y1="656" x2="466.5" y2="661" stroke="#000" stroke-width="1.1"/><line x1="546.5" y1="656" x2="546.5" y2="661" stroke="#000" stroke-width="1.1"/><line x1="626.5" y1="656" x2="626.5" y2="661" stroke="#000" stroke-width="1.1"/><line x1="706.5" y1="656" x2="706.5" y2="661" stroke="#000" stroke-width="1.1"/><line x1="786.5" y1="656" x2="786.5" y2="661" stroke="#000" stroke-width="1.1"/><line x1="866.5" y1="656" x2="866.5" y2="661" stroke="#000" stroke-width="1.1"/><line x1="946.5" y1="656" x2="946.5" y2="661" stroke="#000" stroke-width="1.1"/><line x1="1026.5" y1="656" x2="1026.5" y2="661" stroke="#000" stroke-width="1.1"/><line x1="1106.5" y1="656" x2="1106.5" y2="661" stroke="#000" stroke-width="1.1"/><line x1="1186.5" y1="656" x2="1186.5" y2="661" stroke="#000" stroke-width="1.1"/><line x1="1266.5" y1="656" x2="1266.5" y2="661" stroke="#000" stroke-width="1.1"/><line x1="1346.5" y1="656" x2="1346.5" y2="661" stroke="#000" stroke-width="1.1"/><line x1="1426.5" y1="656" x2="1426.5" y2="661" stroke="#000" stroke-width="1.1"/><line x1="1506.5" y1="656" x2="1506.5" y2="661" stroke="#000" stroke-width="1.1"/><line x1="1586.5" y1="656" x2="1586.5" y2="661" stroke="#000" stroke-width="1.1"/><line x1="66.5" y1="656" x2="66.5" y2="726" stroke="#000" stroke-width="1.2"/><line x1="64" y1="724.5" x2="69" y2="724.5" stroke="#000" stroke-width="1.1"/><line x1="64" y1="708.7" x2="69" y2="708.7" stroke="#000" stroke-width="1.1"/><line x1="64" y1="692.9" x2="69" y2="692.9" stroke="#000" stroke-width="1.1"/><line x1="64" y1="677.1" x2="69" y2="677.1" stroke="#000" stroke-width="1.1"/><line x1="64" y1="661.3" x2="69" y2="661.3" stroke="#000" stroke-width="1.1"/><polyline points="67.50,724.50 92.50,724.50 93.50,724.36 94.50,722.93 95.50,723.50 96.50,724.50 97.50,724.50 98.50,723.79 99.50,723.93 100.50,724.50 106.50,724.50 107.50,723.79 108.50,722.64 109.50,724.07 110.50,724.50 127.50,724.50 128.50,723.93 129.50,723.79 130.50,724.50 153.50,724.50 154.50,724.14 155.50,722.36 156.50,723.43 157.50,724.50 186.50,724.50 187.50,724.32 188.50,724.04 189.50,724.39 190.50,724.50 236.50,724.50 237.50,723.79 238.50,722.64 239.50,724.07 240.50,724.50 248.50,724.50 249.50,724.36 250.50,723.64 251.50,724.07 252.50,724.50 256.50,724.50 257.50,723.24 258.50,718.50 259.00,717.20 259.50,718.50 260.50,723.24 261.50,724.50 264.50,724.50 265.50,722.60 266.50,717.88 266.80,717.40 267.50,719.66 268.50,723.76 269.50,724.50 270.50,724.50 271.50,724.29 272.50,723.57 273.50,724.14 274.50,724.50 286.50,724.50 287.50,724.29 288.50,723.57 289.50,724.14 290.50,724.50 293.50,724.50 294.50,723.85 295.50,720.27 296.20,718.30 296.50,718.72 297.50,722.84 298.50,724.50 301.50,724.50 302.50,720.84 303.50,709.52 304.30,703.30 304.50,703.76 305.50,714.79 306.50,722.97 307.50,724.21 308.50,722.79 309.50,723.62 310.50,716.30 311.50,690.08 312.50,659.38 312.80,658.50 313.50,666.38 314.50,691.80 315.50,709.53 316.50,723.06 317.50,724.50 318.50,722.91 319.50,712.35 320.50,687.66 321.20,678.30 321.50,680.50 322.50,706.03 323.50,721.88 324.50,724.50 327.50,724.50 328.50,723.86 329.50,723.21 330.50,724.29 331.50,724.50 373.50,724.50 374.50,724.07 375.50,723.64 376.50,724.36 377.50,724.50 400.50,724.50 401.50,724.21 402.50,723.50 403.50,724.21 404.50,724.50 516.50,724.50 517.50,723.86 518.50,723.86 519.50,724.50 547.50,724.50 548.50,724.50 549.50,723.79 550.50,723.93 551.50,724.50 552.50,724.50 553.50,724.29 554.50,723.80 555.50,723.80 556.50,723.80 557.50,723.80 558.50,723.80 559.50,724.08 560.50,724.50 561.50,724.50 562.50,722.40 563.50,720.30 564.50,720.30 565.50,720.30 566.50,720.30 567.50,722.40 568.50,724.50 571.50,724.50 572.50,722.75 573.50,719.24 574.10,718.20 574.50,718.68 575.50,722.14 576.50,724.15 577.50,724.50 602.50,724.50 603.50,724.50 604.50,723.79 605.50,723.93 606.50,724.50 607.50,723.41 608.50,719.32 609.00,718.20 609.50,719.32 610.50,723.41 611.50,721.93 612.50,715.97 613.20,713.60 613.50,714.08 614.50,719.82 615.50,722.96 616.50,718.23 616.90,717.40 617.50,719.14 618.50,723.54 619.50,724.50 621.50,724.50 622.50,724.12 623.50,720.33 624.50,709.17 625.20,704.50 625.50,705.45 626.50,716.50 627.50,723.37 628.50,724.50 629.50,724.50 630.50,723.40 631.50,715.29 632.50,693.85 633.30,683.30 633.50,683.95 634.50,701.29 635.50,718.52 636.50,723.80 637.50,724.50 638.50,723.98 639.50,719.32 640.50,705.47 641.30,698.30 641.50,698.78 642.50,711.04 643.50,721.70 644.50,724.50 647.50,724.50 648.50,723.86 649.50,723.21 650.50,724.29 651.50,724.50 750.50,724.50 751.50,724.36 752.50,722.93 753.50,723.50 754.50,724.50 779.50,724.50 780.50,724.00 781.50,723.71 782.50,724.43 783.50,724.50 787.50,724.50 788.50,723.21 789.50,721.93 790.50,724.07 791.50,724.50 796.50,724.50 797.50,724.07 798.50,723.00 799.50,724.07 800.50,724.50 803.50,724.50 804.50,724.12 805.50,721.88 806.50,719.50 807.50,721.88 808.50,724.12 809.50,724.50 899.50,724.50 900.50,724.29 901.50,723.57 902.50,724.14 903.50,724.50 907.50,724.50 908.50,723.16 909.50,719.84 909.80,719.50 910.50,721.09 911.50,723.98 912.50,724.50 914.50,724.50 915.50,723.53 916.50,717.66 917.50,708.21 917.80,707.40 918.50,711.39 919.50,720.94 920.50,724.50 922.50,724.50 923.50,722.21 924.50,709.94 925.50,687.80 926.00,683.30 926.50,687.80 927.50,709.94 928.50,722.21 929.50,724.50 930.50,724.50 931.50,723.98 932.50,719.32 933.50,705.47 934.30,698.30 934.50,698.82 935.50,711.75 936.50,722.17 937.50,724.50 940.50,724.50 941.50,724.21 942.50,723.50 943.50,724.21 944.50,724.50 1026.50,724.50 1027.50,723.86 1028.50,723.21 1029.50,724.29 1030.50,724.50 1033.50,724.50 1034.50,721.70 1035.50,721.70 1036.50,721.70 1037.50,721.70 1038.50,721.70 1039.50,723.10 1040.50,724.50 1092.50,724.50 1093.50,723.96 1094.50,723.11 1095.50,724.18 1096.50,724.50 1100.50,724.50 1101.50,722.47 1102.50,717.06 1103.10,715.30 1103.50,716.13 1104.50,721.61 1105.50,724.50 1107.50,724.50 1108.50,723.77 1109.50,714.86 1110.50,689.44 1111.00,683.30 1111.50,687.80 1112.50,709.94 1113.50,716.13 1114.30,710.70 1114.50,711.12 1115.50,720.02 1116.50,724.50 1117.50,724.50 1118.50,722.74 1119.50,717.21 1120.10,715.30 1120.50,716.20 1121.50,721.90 1122.50,724.50 1124.50,724.50 1125.50,721.51 1126.50,709.70 1127.50,697.54 1127.60,697.40 1128.50,704.88 1129.50,718.07 1130.50,723.55 1131.50,724.50 1223.50,724.50 1224.50,723.25 1225.50,719.84 1226.50,715.80 1226.90,715.30 1227.50,716.38 1228.50,720.72 1229.50,723.62 1230.50,724.50 1376.50,724.50 1377.50,724.10 1378.50,721.55 1379.50,716.47 1380.00,715.40 1380.50,716.47 1381.50,721.55 1382.50,724.10 1383.50,721.86 1384.50,712.67 1385.50,705.00 1386.50,691.65 1387.20,683.30 1387.50,684.29 1388.50,698.41 1389.50,714.64 1390.50,722.33 1391.50,724.50 1408.50,724.50 1409.50,722.71 1410.50,723.07 1411.50,724.50 1414.50,724.50 1415.50,723.13 1416.50,718.37 1417.50,714.40 1418.50,718.37 1419.50,723.13 1420.50,724.50 1421.50,724.50 1422.50,721.32 1423.50,709.19 1424.50,695.25 1424.70,694.70 1425.50,699.43 1426.50,712.09 1427.50,720.92 1428.50,723.90 1429.50,724.50 1466.50,724.50 1467.50,724.28 1468.50,722.30 1469.50,722.30 1470.50,722.30 1471.50,722.30 1472.50,722.30 1473.50,722.30 1474.50,722.30 1475.50,722.30 1476.50,723.00 1477.50,723.00 1478.50,723.00 1479.50,723.00 1480.50,723.00 1481.50,723.00 1482.50,723.00 1483.50,723.00 1484.50,723.45 1485.50,724.50 1615.50,724.50" fill="none" stroke="#d00000" stroke-width="1" stroke-linejoin="miter" shape-rendering="crispEdges"/><line x1="66" y1="725.5" x2="1616" y2="725.5" stroke="#000" stroke-width="1.1"/><line x1="312.5" y1="726" x2="312.5" y2="730" stroke="#c82020" stroke-width="1"/><line x1="633.5" y1="726" x2="633.5" y2="730" stroke="#c82020" stroke-width="1"/><line x1="926.5" y1="726" x2="926.5" y2="730" stroke="#c82020" stroke-width="1"/><line x1="1111.5" y1="726" x2="1111.5" y2="730" stroke="#c82020" stroke-width="1"/><line x1="1387.5" y1="726" x2="1387.5" y2="730" stroke="#c82020" stroke-width="1"/><line x1="1424.5" y1="726" x2="1424.5" y2="730" stroke="#c82020" stroke-width="1"/><line x1="321.5" y1="726" x2="321.5" y2="747" stroke="#c82020" stroke-width="1"/><line x1="641.5" y1="726" x2="641.5" y2="747" stroke="#c82020" stroke-width="1"/><line x1="934.5" y1="726" x2="934.5" y2="747" stroke="#c82020" stroke-width="1"/><line x1="1127.5" y1="726" x2="1127.5" y2="747" stroke="#c82020" stroke-width="1"/></svg><div class="yl" style="top:721px">0</div><div class="yl" style="top:689px">20000</div><div class="yl" style="top:658px">40000</div><div class="bar" style="left:165px;top:628px;width:262px">4769</div><div class="bar" style="left:466px;top:628px;width:241px">2640</div><div class="bar" style="left:846px;top:628px;width:161px">5971</div><div class="bar" style="left:1066px;top:628px;width:241px">6802</div><div class="bar" style="left:1347px;top:628px;width:121px">IGF1</div><div class="pl" style="left:297px;width:32px;top:730px;border-color:#c82020">111.51</div><div class="pl" style="left:618px;width:32px;top:730px;border-color:#c82020">191.57</div><div class="pl" style="left:910px;width:32px;top:730px;border-color:#c82020">264.76</div><div class="pl" style="left:1095px;width:32px;top:730px;border-color:#c82020">311.00</div><div class="pl" style="left:1372px;width:32px;top:730px;border-color:#c82020">379.97</div><div class="pl" style="left:1409px;width:32px;top:730px;border-color:#c82020">389.29</div><div class="pl" style="left:306px;width:32px;top:747px;border-color:#c82020">113.61</div><div class="pl" style="left:626px;width:32px;top:747px;border-color:#c82020">193.64</div><div class="pl" style="left:919px;width:32px;top:747px;border-color:#c82020">266.78</div><div class="pl" style="left:1112px;width:32px;top:747px;border-color:#c82020">315.18</div><div class="sb" style="top:180px;height:24px"></div><div class="thumb" style="top:180px;height:24px"></div><div style="position:absolute;left:1409px;top:182px;width:2px;height:19px;background:#fafafa"></div><div style="position:absolute;left:1412px;top:183px;width:1px;height:17px;background:#e2e2e2"></div><svg style="position:absolute;left:13px;top:186px" width="12" height="14" viewBox="0 0 12 14"><path d="M9.4 2.1 L4.2 7 L9.4 11.9" fill="none" stroke="#505050" stroke-width="2.6"/></svg><div class="sb" style="top:379px;height:23px"></div><div class="thumb" style="top:379px;height:23px"></div><div style="position:absolute;left:1409px;top:381px;width:2px;height:18px;background:#fafafa"></div><div style="position:absolute;left:1412px;top:382px;width:1px;height:16px;background:#e2e2e2"></div><svg style="position:absolute;left:13px;top:385px" width="12" height="14" viewBox="0 0 12 14"><path d="M9.4 2.1 L4.2 7 L9.4 11.9" fill="none" stroke="#505050" stroke-width="2.6"/></svg><div class="sb" style="top:578px;height:23px"></div><div class="thumb" style="top:578px;height:23px"></div><div style="position:absolute;left:1409px;top:580px;width:2px;height:18px;background:#fafafa"></div><div style="position:absolute;left:1412px;top:581px;width:1px;height:16px;background:#e2e2e2"></div><svg style="position:absolute;left:13px;top:584px" width="12" height="14" viewBox="0 0 12 14"><path d="M9.4 2.1 L4.2 7 L9.4 11.9" fill="none" stroke="#505050" stroke-width="2.6"/></svg><div style="position:absolute;left:5px;top:775px;width:1611px;height:2px;background:#f2f2f2"></div><div style="position:absolute;left:172px;top:775px;width:1237px;height:2px;background:linear-gradient(#ececec,#d6d6d6)"></div>
<div style="position:absolute;left:0;top:0;width:1619px;height:780px;border:3px solid #000"></div><div style="position:absolute;left:3px;top:7px;width:2px;height:770px;background:#717171"></div><div style="position:absolute;left:5px;top:7px;width:1px;height:770px;background:#c4c4c4"></div><div style="position:absolute;left:3px;top:403px;width:1px;height:201px;background:#4f7a78"></div><div style="position:absolute;left:4px;top:403px;width:1px;height:201px;background:#2e8a7c"></div><div style="position:absolute;left:5px;top:403px;width:1px;height:201px;background:#94dcd4"></div>
</body></html>
